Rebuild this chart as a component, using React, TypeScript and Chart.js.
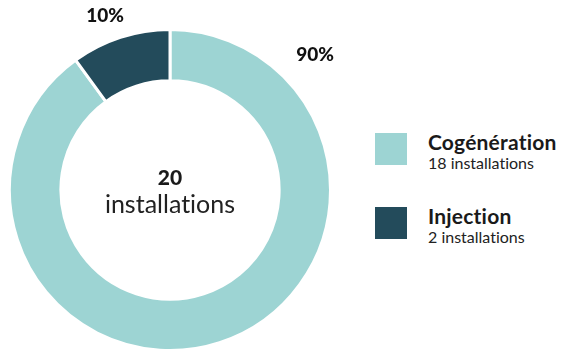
import React, { useEffect, useRef } from "react";
import { Chart, registerables } from "chart.js";

Chart.register(...registerables);

const categories = ["Cogénération", "Injection"];
const installations = [18, 2];
const percentLabels = ["90%", "10%"];
const colors = ["#9dd4d3", "#234b5b"];
const totalLabel = "20";
const totalUnit = "installations";

const FONT = "Lato, 'Open Sans', sans-serif";

const percentPlugin = {
  id: "percentLabels",
  afterDatasetsDraw(chart: any) {
    const ctx = chart.ctx;
    const meta = chart.getDatasetMeta(0);
    ctx.save();
    ctx.fillStyle = "#111";
    ctx.font = `900 19px ${FONT}`;
    ctx.textAlign = "center";
    ctx.textBaseline = "middle";
    meta.data.forEach((arc: any, i: number) => {
      const { x, y, startAngle, endAngle, outerRadius } = arc.getProps(
        ["x", "y", "startAngle", "endAngle", "outerRadius"],
        true
      );
      const span = endAngle - startAngle;
      let a: number;
      let d: number;
      if (span < Math.PI / 2) {
        a = (startAngle + endAngle) / 2 - (2.5 * Math.PI) / 180;
        d = outerRadius + 25;
      } else {
        a = startAngle + (47 * Math.PI) / 180;
        d = outerRadius + 38;
      }
      ctx.fillText(percentLabels[i], x + Math.cos(a) * d, y + Math.sin(a) * d);
    });
    ctx.restore();
  },
};

export default function App() {
  const canvasRef = useRef<HTMLCanvasElement>(null);

  useEffect(() => {
    const chart = new Chart(canvasRef.current!, {
      type: "doughnut",
      data: {
        labels: categories,
        datasets: [
          {
            data: installations,
            backgroundColor: colors,
            borderColor: "#ffffff",
            borderWidth: 3,
            hoverOffset: 0,
          },
        ],
      },
      options: {
        responsive: false,
        animation: false,
        cutout: "68%",
        layout: { padding: { top: 28, left: 0, right: 0, bottom: 0 } },
        plugins: {
          legend: { display: false },
          tooltip: { enabled: false },
        },
      },
      plugins: [percentPlugin],
    });
    return () => chart.destroy();
  }, []);

  const noLig: React.CSSProperties = { fontVariantLigatures: "none", whiteSpace: "nowrap" };

  return (
    <div style={{ position: "relative", width: 561, height: 349, overflow: "hidden", fontFamily: FONT, color: "#1a1a1a" }}>
      <style>{`body{margin:0}`}</style>
      <canvas ref={canvasRef} width={346} height={352} style={{ position: "absolute", left: -3, top: 0 }} />
      <div style={{ ...noLig, position: "absolute", left: 70, width: 200, top: 166, textAlign: "center", fontWeight: 900, fontSize: 21, lineHeight: "21px" }}>
        {totalLabel}
      </div>
      <div style={{ ...noLig, position: "absolute", left: 70, width: 200, top: 188, textAlign: "center", fontWeight: 400, fontSize: 25, lineHeight: "30px", color: "#222" }}>
        {totalUnit}
      </div>
      {categories.map((c, i) => (
        <div key={c} style={{ position: "absolute", left: 375, top: 133 + i * 74 }}>
          <div style={{ position: "absolute", left: 0, top: 0, width: 32, height: 32, background: colors[i] }} />
          <div style={{ ...noLig, position: "absolute", left: 53, top: -2, fontWeight: 700, fontSize: 21, lineHeight: "21px", letterSpacing: 0.2 }}>
            {c}
          </div>
          <div style={{ ...noLig, position: "absolute", left: 53, top: 22, fontWeight: 400, fontSize: 16, lineHeight: "16px", color: "#222" }}>
            {installations[i]} installations
          </div>
        </div>
      ))}
    </div>
  );
}
